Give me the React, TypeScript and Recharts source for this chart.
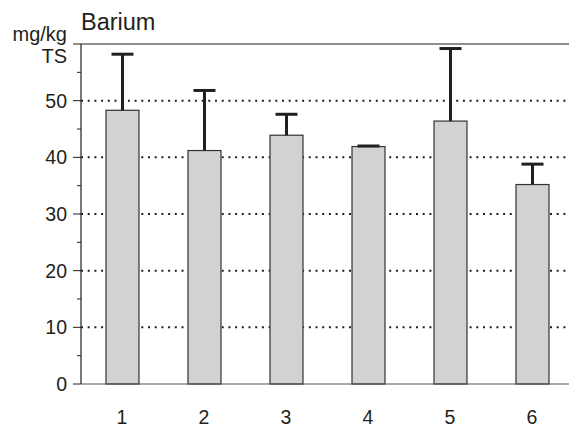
import React from 'react';
import { BarChart, Bar, XAxis, YAxis, CartesianGrid, ReferenceLine } from 'recharts';

const categories = ['1', '2', '3', '4', '5', '6'];
const means = [48.3, 41.2, 43.9, 41.9, 46.4, 35.2];
const upperErrors = [9.9, 10.6, 3.7, 0.1, 12.8, 3.6];
const yTicks = [0, 5, 10, 15, 20, 25, 30, 35, 40, 45, 50, 55, 60];
const gridValues = [10, 20, 30, 40, 50];

const data = categories.map((name, i) => ({ name, value: means[i], err: upperErrors[i] }));

const INK = '#231f20';
const FONT = '"Liberation Sans", Arial, sans-serif';
const TICK_SIZE = 8;
const TICK_MARGIN = 6;

// bar + one-sided (upper) error whisker
const BarWithError = (props: any) => {
  const { x, y, width, height, payload } = props;
  const perUnit = height / payload.value;
  const yTop = y - payload.err * perUnit;
  const cx = x + width / 2;
  return (
    <g>
      <rect x={x} y={y} width={width} height={height} fill="#d1d2d4" stroke="#333" strokeWidth={1.2} />
      <line x1={cx} x2={cx} y1={y} y2={yTop} stroke={INK} strokeWidth={3} />
      <line x1={cx - 11} x2={cx + 11} y1={yTop} y2={yTop} stroke={INK} strokeWidth={3} />
    </g>
  );
};

const YTick = (props: any) => {
  const { x, y, payload } = props;
  const axisX = x + TICK_SIZE + TICK_MARGIN;
  const v = payload.value;
  const major = v % 10 === 0;
  const len = major ? TICK_SIZE : 4;
  return (
    <g>
      <line x1={axisX - len} x2={axisX} y1={y} y2={y} stroke={INK} strokeWidth={1} />
      {major && v < 60 && (
        <text x={x} y={y} dy="0.36em" textAnchor="end" fontSize={19.5} fill={INK} fontFamily={FONT}>
          {v}
        </text>
      )}
      {v === 60 && (
        <text textAnchor="end" fontSize={20} fill={INK} fontFamily={FONT}>
          <tspan x={x} y={y - 3}>mg/kg</tspan>
          <tspan x={x} y={y + 19}>TS</tspan>
        </text>
      )}
    </g>
  );
};

const XTick = (props: any) => {
  const { x, y, payload } = props;
  return (
    <text x={x} y={y} dy={32} textAnchor="middle" fontSize={19.5} fill={INK} fontFamily={FONT}>
      {payload.value}
    </text>
  );
};

export default function App() {
  return (
    <div style={{ position: 'absolute', left: 0, top: 0, width: 569, height: 430, overflow: 'hidden', background: '#fff' }}>
      <div
        style={{
          position: 'absolute',
          left: 81,
          top: 9,
          fontSize: 23.5,
          lineHeight: 'normal',
          fontFamily: FONT,
          color: INK,
        }}
      >
        Barium
      </div>
      <BarChart
        width={580}
        height={430}
        data={data}
        margin={{ top: 44, right: 7, bottom: 0, left: 0 }}
        barSize={33}
      >
        <CartesianGrid
          vertical={false}
          horizontalValues={gridValues}
          stroke={INK}
          strokeWidth={2}
          strokeDasharray="2 4.7"
        />
        <ReferenceLine y={60} stroke={INK} strokeWidth={1.2} ifOverflow="extendDomain" />
        <XAxis
          dataKey="name"
          tickLine={false}
          axisLine={{ stroke: '#555', strokeWidth: 1.2 }}
          height={46}
          tick={<XTick />}
        />
        <YAxis
          domain={[0, 60]}
          ticks={yTicks}
          interval={0}
          width={81}
          tickSize={TICK_SIZE}
          tickMargin={TICK_MARGIN}
          tickLine={false}
          axisLine={{ stroke: INK, strokeWidth: 1.2 }}
          tick={<YTick />}
        />
        <Bar dataKey="value" shape={<BarWithError />} isAnimationActive={false} />
      </BarChart>
    </div>
  );
}
